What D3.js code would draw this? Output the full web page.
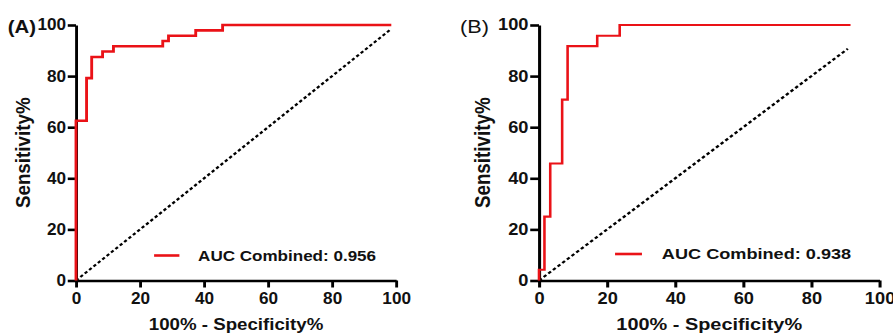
<!DOCTYPE html>
<html>
<head>
<meta charset="utf-8">
<script src="https://cdn.jsdelivr.net/npm/d3@7"></script>
<style>
	body { margin: 0; background: #fff; }
	svg { display: block; }
	text { font-family: Arial, "Liberation Sans", sans-serif; fill: #111; }
</style>
</head>
<body>
<div id="chart"></div>
<script>
// ROC curve points (100% - specificity, sensitivity)
var rocA_x = [0, 0, 3.3, 4.9, 8.3, 11.7, 27.1, 28.9, 37.4, 45.8, 98.5];
var rocA_y = [0, 62.5, 79.2, 87.5, 89.6, 91.7, 93.75, 95.8, 97.9, 100, 100];
var rocB_x = [0, 0, 1.6, 3.3, 6.8, 8.4, 17.1, 23.7, 91.5];
var rocB_y = [0, 4.2, 25, 45.8, 70.8, 91.7, 95.8, 100, 100];
// reference (chance) line end points
var refA = [0, 98.2];
var refB = [0, 90.7];
var ticks = [0, 20, 40, 60, 80, 100];
var labels = ['(A)', '(B)'];
var legends = ['AUC Combined: 0.956', 'AUC Combined: 0.938'];
var xTitle = '100%  - Specificity%';
var yTitle = 'Sensitivity%';

var red = '#ea1217';
var svg = d3.select('#chart').append('svg')
	.attr('width', 893)
	.attr('height', 335);

var plotTop = 25, plotBottom = 280.5, innerW = 291;

function drawPanel(opt) {
	// the original image is stretched horizontally, so each panel gets its own x stretch
	var g = svg.append('g')
		.attr('transform', 'translate(' + opt.left + ',0) scale(' + opt.sx + ',1)');

	var x = d3.scaleLinear().domain([0, 100]).range([0, innerW]);
	var y = d3.scaleLinear().domain([0, 100]).range([plotBottom, plotTop]);

	var xAxis = g.append('g')
		.attr('transform', 'translate(0,' + plotBottom + ')')
		.call(d3.axisBottom(x).tickValues(ticks).tickSize(7).tickPadding(5.5).tickSizeOuter(0));
	var yAxis = g.append('g')
		.call(d3.axisLeft(y).tickValues(ticks).tickSize(7.5).tickPadding(1.5).tickSizeOuter(0));

	[xAxis, yAxis].forEach(function(a) {
		a.selectAll('path, line').attr('stroke', '#000').attr('stroke-width', 2.6);
		a.selectAll('text')
			.style('font-size', '15.6px')
			.style('font-weight', 'bold')
			.attr('fill', '#111');
	});

	// chance line
	g.append('line')
		.attr('x1', x(opt.ref[0])).attr('y1', y(opt.ref[0]))
		.attr('x2', x(opt.ref[1])).attr('y2', y(opt.ref[1]))
		.attr('stroke', '#000')
		.attr('stroke-width', 2.2)
		.attr('stroke-dasharray', '3,2.3');

	var pts = opt.xs.map(function(v, i) { return [v, opt.ys[i]]; });
	var line = d3.line()
		.x(function(d) { return x(d[0]); })
		.y(function(d) { return y(d[1]); })
		.curve(d3.curveStepAfter);

	g.append('path')
		.datum(pts)
		.attr('d', line)
		.attr('fill', 'none')
		.attr('stroke', red)
		.attr('stroke-width', opt.lw)
		.attr('stroke-linejoin', 'miter');

	// legend
	g.append('line')
		.attr('x1', opt.legX).attr('x2', opt.legX + 23)
		.attr('y1', opt.legY).attr('y2', opt.legY)
		.attr('stroke', red)
		.attr('stroke-width', 2.6);
	g.append('text')
		.attr('x', opt.legX + 40)
		.attr('y', opt.legY + 5.5)
		.style('font-size', '15.5px')
		.style('font-weight', 'bold')
		.text(opt.legend);

	// axis titles
	g.append('text')
		.attr('x', innerW / 2)
		.attr('y', 330)
		.attr('text-anchor', 'middle')
		.style('font-size', '17px')
		.style('font-weight', 'bold')
		.text(xTitle);
	g.append('text')
		.attr('transform', 'translate(-42,' + ((plotTop + plotBottom) / 2) + ') rotate(-90)')
		.attr('text-anchor', 'middle')
		.style('font-size', '18.8px')
		.style('font-weight', 'bold')
		.text(yTitle);

	g.append('text')
		.attr('x', opt.labX)
		.attr('y', 33.5)
		.style('font-size', '18.5px')
		.style('font-weight', opt.labWeight)
		.text(opt.label);
}

drawPanel({left: 76, sx: 1.1, xs: rocA_x, ys: rocA_y, ref: refA, lw: 2.6,
	legX: 71, legY: 255.5, legend: legends[0], label: labels[0], labX: -62, labWeight: 'bold'});
drawPanel({left: 539, sx: 1.17, xs: rocB_x, ys: rocB_y, ref: refB, lw: 2.2,
	legX: 65, legY: 254, legend: legends[1], label: labels[1], labX: -67.5, labWeight: 'normal'});
</script>
</body>
</html>
